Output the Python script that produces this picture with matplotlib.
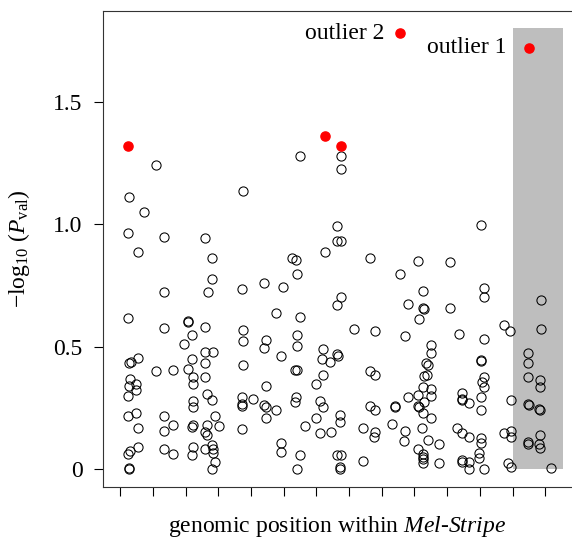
import matplotlib
matplotlib.use('Agg')
import matplotlib.pyplot as plt

plt.rcParams['font.family'] = 'Liberation Serif'
plt.rcParams['mathtext.fontset'] = 'custom'
plt.rcParams['mathtext.rm'] = 'Liberation Serif'
plt.rcParams['mathtext.it'] = 'Liberation Serif:italic'

# genomic position (tick units) and -log10(p) of every tested site
pos = [1.10, 0.28, 0.72, 0.23, 0.54, 1.33, 2.58, 2.80, 2.79, 1.33, 2.69,
       0.23, 1.33, 2.07, 2.08, 2.19, 2.60, 1.95, 2.58, 2.83, 2.19, 0.27, 0.33,
       0.54, 2.58, 1.10, 1.60, 2.07, 2.22, 2.22, 2.58, 0.31, 0.49, 0.28, 0.49,
       0.23, 2.66, 2.80, 2.22, 2.22, 0.23, 0.49, 1.33, 2.89, 0.54, 1.33, 1.60,
       2.22, 2.19, 2.66, 3.01, 2.58, 2.66, 2.80, 2.83, 2.58, 2.22, 2.19, 2.83,
       2.89, 2.80, 0.54, 0.31, 0.23, 1.33, 1.60, 0.25, 0.28,
       5.50, 3.75, 6.26, 5.26, 5.39, 5.42, 3.71, 4.41, 4.98,
       6.74, 6.74, 6.64, 6.64, 6.74, 6.74, 6.64, 6.64, 6.65, 6.71, 6.71, 6.64,
       6.74, 6.71, 6.73,
       4.75, 5.49, 3.75, 3.75, 4.45, 4.40, 5.41, 5.41, 4.92, 6.20, 6.18, 6.43,
       3.75, 5.34, 5.41, 6.20, 5.98, 4.45, 3.73, 4.06, 3.73, 3.73, 4.40, 4.45,
       4.75, 5.39, 5.34, 6.12, 6.20, 3.73, 4.45, 5.98, 5.64, 6.12, 6.46, 4.92,
       4.92, 5.49, 5.41,
       7.63, 9.11, 10.10, 8.55, 9.27, 8.79, 9.27, 9.29, 10.10,
       9.13, 7.15, 7.78, 8.72, 9.50, 9.50, 9.34, 9.42, 7.63, 7.78, 9.29, 9.37,
       9.26, 9.52, 8.79, 9.11, 9.52, 9.29, 9.11, 9.13, 8.40, 8.40, 7.63, 7.78,
       9.26, 9.52, 8.30, 7.41, 7.78, 7.75, 8.72, 8.68, 9.24, 9.42, 9.74, 9.11,
       9.26, 9.26, 9.26, 9.26, 9.74, 7.41,
       11.03, 11.13, 11.13, 12.86, 11.74, 11.92, 12.86, 10.36, 11.13, 12.48,
       12.48, 11.03, 11.03, 12.48, 12.83, 12.83, 11.13, 11.07, 11.13, 10.44,
       10.44, 10.44, 10.66, 11.03, 11.05, 11.95, 12.48, 12.50, 12.80, 12.83,
       10.30, 10.46, 10.66, 11.03, 11.05, 11.73, 11.95, 11.95, 12.48, 12.48,
       12.83, 12.81, 12.83, 10.98, 10.98, 10.44, 10.46, 10.66, 10.66, 11.12,
       11.85, 11.95, 13.19]
logp = [1.24, 1.11, 1.05, 0.965, 0.888, 0.946, 0.943, 0.860, 0.776, 0.722, 0.722,
        0.618, 0.574, 0.605, 0.599, 0.549, 0.580, 0.511, 0.476, 0.476, 0.451, 0.435, 0.437,
        0.455, 0.435, 0.400, 0.404, 0.408, 0.374, 0.349, 0.376, 0.367, 0.349, 0.340, 0.322,
        0.298, 0.306, 0.281, 0.278, 0.252, 0.217, 0.227, 0.217, 0.216, 0.166, 0.156, 0.178,
        0.179, 0.170, 0.179, 0.177, 0.152, 0.139, 0.098, 0.080, 0.080, 0.091, 0.057, 0.064,
        0.030, 0.000, 0.091, 0.075, 0.061, 0.082, 0.060, 0.003, 0.000,
        1.277, 1.135, 0.886, 0.861, 0.855, 0.795, 0.737, 0.760, 0.742,
        1.277, 1.226, 0.991, 0.931, 0.931, 0.702, 0.669, 0.471, 0.461, 0.220, 0.193, 0.057,
        0.057, 0.008, 0.000,
        0.637, 0.621, 0.567, 0.522, 0.526, 0.496, 0.546, 0.501, 0.462, 0.489, 0.448, 0.438,
        0.424, 0.406, 0.406, 0.386, 0.347, 0.340, 0.295, 0.288, 0.264, 0.257, 0.260, 0.252,
        0.243, 0.295, 0.274, 0.277, 0.254, 0.164, 0.207, 0.207, 0.175, 0.146, 0.150, 0.107,
        0.071, 0.058, 0.000,
        0.860, 0.851, 0.845, 0.796, 0.726, 0.672, 0.658, 0.652, 0.658,
        0.612, 0.571, 0.563, 0.542, 0.508, 0.474, 0.433, 0.424, 0.401, 0.383, 0.379, 0.383,
        0.333, 0.325, 0.295, 0.302, 0.298, 0.274, 0.257, 0.252, 0.257, 0.252, 0.257, 0.241,
        0.227, 0.207, 0.182, 0.168, 0.152, 0.129, 0.156, 0.115, 0.168, 0.118, 0.102, 0.082,
        0.061, 0.050, 0.040, 0.026, 0.023, 0.034,
        0.995, 0.738, 0.701, 0.689, 0.587, 0.564, 0.571, 0.550, 0.530, 0.474,
        0.433, 0.444, 0.440, 0.376, 0.363, 0.336, 0.374, 0.356, 0.336, 0.309,
        0.288, 0.281, 0.270, 0.295, 0.243, 0.281, 0.264, 0.261, 0.247, 0.243,
        0.166, 0.146, 0.132, 0.125, 0.105, 0.148, 0.156, 0.132, 0.111, 0.102,
        0.139, 0.102, 0.087, 0.066, 0.044, 0.037, 0.030, 0.030, 0.000, 0.000,
        0.023, 0.007, 0.005]

# significant sites (red)
sig_pos = [0.23, 6.26, 6.74, 8.56, 12.50]
sig_logp = [1.32, 1.36, 1.32, 1.78, 1.72]

# outlier labels
out_names = ['outlier 2', 'outlier 1']
out_pos = [8.56, 12.50]
out_logp = [1.78, 1.72]

# highlighted window
win_start, win_end, win_top = 12.02, 13.55, 1.8

fig = plt.figure(figsize=(5.72, 5.39), dpi=100)
ax = fig.add_axes([102.7 / 572, 52.3 / 539, (572 - 102.7) / 572, (486.7 - 10.5) / 539])

ax.fill_between([win_start, win_end], 0, win_top, color='#bebebe', lw=0, zorder=1)
ax.plot(pos, logp, 'o', mfc='none', mec='black', ms=6.6, mew=0.75, zorder=2)
ax.plot(sig_pos, sig_logp, 'o', color='red', ms=6.6, zorder=3)

ax.text(8.09, 1.78, out_names[0], ha='right', va='center', fontsize=17)
ax.text(11.82, 1.72, out_names[1], ha='right', va='center', fontsize=17)

ax.set_xlim(-0.54, 13.82)
ax.set_ylim(-0.072, 1.872)
ax.set_xticks(range(14))
ax.set_xticklabels([])
ax.set_yticks([0, 0.5, 1.0, 1.5])
ax.set_yticklabels(['0', '0.5', '1.0', '1.5'])
ax.tick_params(axis='both', direction='out', length=6.5, width=0.8, labelsize=17, pad=8)
for s in ['left', 'bottom', 'top']:
    ax.spines[s].set_linewidth(0.8)
    ax.spines[s].set_color('#333333')
ax.spines['right'].set_visible(False)

ax.set_xlabel(r'genomic position within $\mathit{Mel}$-$\mathit{Stripe}$', fontsize=17, labelpad=5)
ax.set_ylabel('\u2212log$_{10}$ ($P_{\\mathrm{val}}$)', fontsize=17)
ax.yaxis.set_label_coords(-0.15, 0.5)

fig.savefig('out.png', dpi=100)
